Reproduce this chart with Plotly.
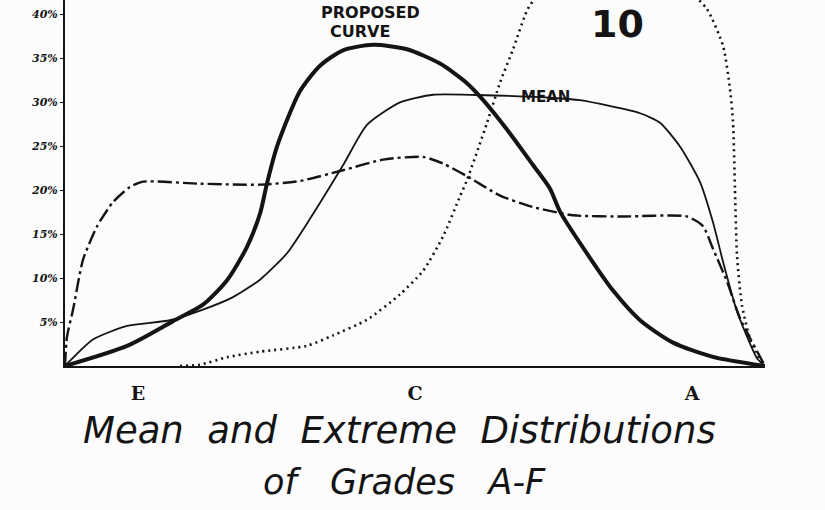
import plotly.graph_objects as go

# Grade positions: E=1, C=3, A=5 (B=4, D=2)
grade_ticks = [1, 3, 5]
grade_labels = ["E", "C", "A"]
pct_ticks = [5, 10, 15, 20, 25, 30, 35, 40]
pct_labels = ["5%", "10%", "15%", "20%", "25%", "30%", "35%", "40%"]

proposed_x = [0.473, 0.921, 1.253, 1.469, 1.643, 1.787, 1.881, 1.931, 2.004, 2.170, 2.314, 2.480,
              2.697, 2.942, 3.181, 3.375, 3.491, 3.664, 3.852, 3.975, 4.047, 4.264, 4.430, 4.625,
              4.863, 5.152, 5.527]
proposed_y = [0, 2.28, 5.10, 6.97, 9.75, 13.54, 17.31, 20.73, 24.96, 31.25, 34.13, 35.88,
              36.51, 36.0, 34.37, 32.15, 30.25, 26.88, 22.84, 20.15, 17.55, 12.27, 8.57, 5.21,
              2.66, 1.03, 0]

mean_x = [0.473, 0.675, 0.921, 1.231, 1.469, 1.686, 1.881, 2.076, 2.242, 2.480, 2.653, 2.892,
          3.130, 3.448, 3.975, 4.191, 4.625, 4.769, 4.913, 5.058, 5.152, 5.224, 5.325, 5.469, 5.527]
mean_y = [0, 3.01, 4.55, 5.20, 6.41, 7.83, 9.81, 12.82, 16.73, 22.81, 27.41, 29.97,
          30.83, 30.80, 30.49, 30.21, 28.73, 27.64, 24.95, 20.90, 16.3, 11.85, 6.20, 0.89, 0]

low_x = [0.473, 0.487, 0.531, 0.603, 0.704, 0.819, 0.942, 1.036, 1.448, 1.881, 2.170, 2.480,
         2.769, 3.058, 3.202, 3.375, 3.614, 3.852, 4.141, 4.502, 4.964, 5.079, 5.152, 5.253,
         5.347, 5.527]
low_y = [0, 3.30, 6.38, 12.08, 15.86, 18.62, 20.35, 20.95, 20.72, 20.61, 21.03, 22.25,
         23.46, 23.77, 23.01, 21.58, 19.37, 18.07, 17.13, 16.99, 17.0, 15.9, 13.31, 9.59,
         5.41, 0]

high_x = [1.303, 1.448, 1.643, 1.881, 2.220, 2.408, 2.653, 2.892, 3.058, 3.202, 3.325, 3.375,
          3.520, 3.614, 3.708, 3.830, 4.047, 4.408, 4.769, 4.964, 5.108, 5.224, 5.274, 5.296,
          5.310, 5.325, 5.361, 5.440, 5.527]
high_y = [0, 0.15, 1.0, 1.63, 2.29, 3.48, 5.25, 8.15, 10.81, 14.71, 19.29, 21.12,
          27.64, 32.21, 35.99, 41.02, 44.0, 45.0, 44.2, 42.8, 40.57, 36.4, 31.52, 27.78,
          20.17, 12.56, 6.89, 2.02, 0]

ink = "#141414"
fig = go.Figure()
fig.add_trace(go.Scatter(x=high_x, y=high_y, mode="lines",
                         line=dict(color=ink, width=2.6, dash="2px,4px", shape="spline", smoothing=0.6)))
fig.add_trace(go.Scatter(x=low_x, y=low_y, mode="lines",
                         line=dict(color=ink, width=2.4, dash="14px,4px,3px,4px", shape="spline", smoothing=0.6)))
fig.add_trace(go.Scatter(x=mean_x, y=mean_y, mode="lines",
                         line=dict(color=ink, width=1.8, shape="spline", smoothing=0.6)))
fig.add_trace(go.Scatter(x=proposed_x, y=proposed_y, mode="lines",
                         line=dict(color=ink, width=4, shape="spline", smoothing=0.7)))

fig.update_layout(
    width=825, height=510,
    margin=dict(l=65, r=60, t=0, b=144),
    paper_bgcolor="#fcfcfc", plot_bgcolor="#fcfcfc",
    showlegend=False,
    xaxis=dict(range=[0.473, 5.527], tickvals=grade_ticks, ticktext=grade_labels,
               showgrid=False, zeroline=False, showline=True, linecolor=ink, linewidth=2,
               ticks="", ticklabelstandoff=9,
               tickfont=dict(family="DejaVu Serif", size=19, color=ink, weight="bold")),
    yaxis=dict(range=[0, 41.6], tickvals=pct_ticks, ticktext=pct_labels,
               showgrid=False, zeroline=False, showline=True, linecolor=ink, linewidth=2,
               ticks="outside", ticklen=3, tickcolor=ink, ticklabelstandoff=0,
               tickfont=dict(family="DejaVu Serif", size=11, color=ink, style="italic", weight="bold")),
)

def note(text, x, y, size, family="DejaVu Sans", weight="bold", style="normal", yanchor="middle"):
    fig.add_annotation(text=text, xref="paper", yref="paper", x=x, y=y, showarrow=False,
                       xanchor="center", yanchor=yanchor,
                       font=dict(family=family, size=size, color=ink, weight=weight, style=style))

note("10", 0.789, 1.0, 38, yanchor="top")
note("PROPOSED", 0.436, 0.967, 16)
note("CURVE", 0.421, 0.913, 16)
note("MEAN", 0.686, 0.735, 15)
note("Mean  and  Extreme  Distributions", 0.478, -0.175, 37, weight="normal", style="italic")
note("of   Grades   A-F", 0.485, -0.318, 35, weight="normal", style="italic")

fig.write_html("out.html")
